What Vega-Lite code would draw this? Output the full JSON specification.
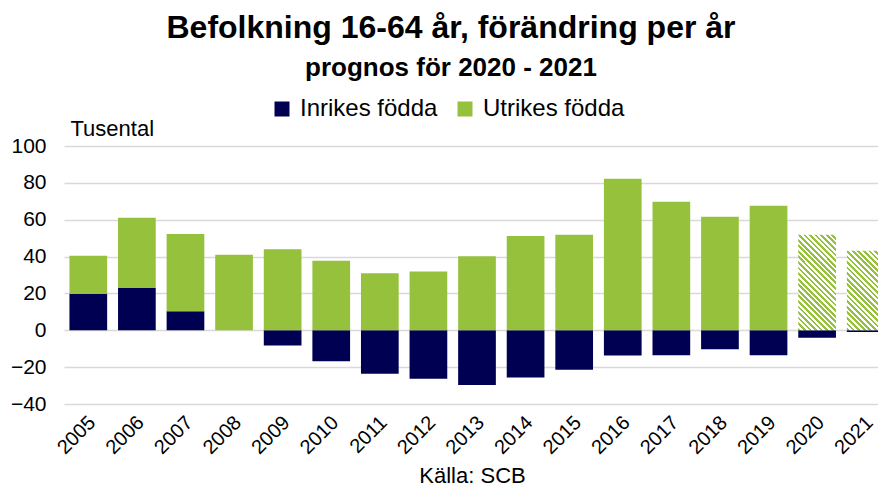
{
  "$schema": "https://vega.github.io/schema/vega-lite/v6.json",
  "width": 814,
  "height": 258,
  "autosize": {"type": "none"},
  "padding": {"left": 64, "top": 146, "right": 0, "bottom": 84},
  "background": "white",
  "title": {
    "text": "Befolkning 16-64 år, förändring per år",
    "subtitle": "prognos för 2020 - 2021",
    "anchor": "middle",
    "frame": "group",
    "font": "Liberation Sans",
    "fontSize": 32,
    "fontWeight": "bold",
    "color": "black",
    "subtitleFont": "Liberation Sans",
    "subtitleFontSize": 26,
    "subtitleFontWeight": "bold",
    "subtitleColor": "black",
    "subtitlePadding": 10,
    "offset": 15,
    "dx": -20
  },
  "config": {
    "view": {"stroke": null},
    "font": "Liberation Sans"
  },
  "data": {
    "values": [
      {"year": "2005", "group": "Inrikes födda", "value": 19.8},
      {"year": "2006", "group": "Inrikes födda", "value": 22.9},
      {"year": "2007", "group": "Inrikes födda", "value": 10.3},
      {"year": "2008", "group": "Inrikes födda", "value": 0},
      {"year": "2009", "group": "Inrikes födda", "value": -8.3},
      {"year": "2010", "group": "Inrikes födda", "value": -16.8},
      {"year": "2011", "group": "Inrikes födda", "value": -23.6},
      {"year": "2012", "group": "Inrikes födda", "value": -26.3},
      {"year": "2013", "group": "Inrikes födda", "value": -29.7},
      {"year": "2014", "group": "Inrikes födda", "value": -25.6},
      {"year": "2015", "group": "Inrikes födda", "value": -21.4},
      {"year": "2016", "group": "Inrikes födda", "value": -13.7},
      {"year": "2017", "group": "Inrikes födda", "value": -13.5},
      {"year": "2018", "group": "Inrikes födda", "value": -10.3},
      {"year": "2019", "group": "Inrikes födda", "value": -13.5},
      {"year": "2020", "group": "Inrikes födda", "value": -4.1},
      {"year": "2021", "group": "Inrikes födda", "value": -0.9},
      {"year": "2005", "group": "Utrikes födda", "value": 20.7},
      {"year": "2006", "group": "Utrikes födda", "value": 38.1},
      {"year": "2007", "group": "Utrikes födda", "value": 42.0},
      {"year": "2008", "group": "Utrikes födda", "value": 41.0},
      {"year": "2009", "group": "Utrikes födda", "value": 44.0},
      {"year": "2010", "group": "Utrikes födda", "value": 37.8},
      {"year": "2011", "group": "Utrikes födda", "value": 31.0},
      {"year": "2012", "group": "Utrikes födda", "value": 31.9},
      {"year": "2013", "group": "Utrikes födda", "value": 40.2},
      {"year": "2014", "group": "Utrikes födda", "value": 51.2},
      {"year": "2015", "group": "Utrikes födda", "value": 51.9},
      {"year": "2016", "group": "Utrikes födda", "value": 82.2},
      {"year": "2017", "group": "Utrikes födda", "value": 69.7},
      {"year": "2018", "group": "Utrikes födda", "value": 61.6},
      {"year": "2019", "group": "Utrikes födda", "value": 67.6},
      {"year": "2020", "group": "Utrikes födda", "value": 51.9},
      {"year": "2021", "group": "Utrikes födda", "value": 43.2}
    ]
  },
  "encoding": {
    "x": {
      "field": "year",
      "type": "ordinal",
      "scale": {"range": [0, 826], "paddingInner": 0.224, "paddingOuter": 0.112},
      "axis": {
        "labelAngle": -45,
        "labelFontSize": 20,
        "labelFont": "Liberation Sans",
        "labelColor": "black",
        "labelPadding": 8,
        "labelOffset": -3,
        "labelBound": false,
        "ticks": false,
        "domain": false,
        "title": "Källa: SCB",
        "titleFont": "Liberation Sans",
        "titleFontSize": 22,
        "titleFontWeight": "normal",
        "titleColor": "black",
        "titleX": 408,
        "titleY": 78,
        "titleAlign": "center",
        "titleBaseline": "alphabetic"
      }
    },
    "y": {
      "field": "value",
      "type": "quantitative",
      "scale": {"domain": [-40, 100], "nice": false},
      "axis": {
        "values": [-40, -20, 0, 20, 40, 60, 80, 100],
        "labelFont": "Liberation Sans",
        "labelFontSize": 21,
        "labelColor": "black",
        "labelPadding": 18,
        "ticks": false,
        "domain": false,
        "gridColor": "#d9d9d9",
        "gridWidth": 1.5,
        "title": "Tusental",
        "titleFont": "Liberation Sans",
        "titleFontSize": 22,
        "titleFontWeight": "normal",
        "titleColor": "black",
        "titleAngle": 0,
        "titleAlign": "left",
        "titleBaseline": "alphabetic",
        "titleX": 6,
        "titleY": -11
      }
    }
  },
  "layer": [
    {
      "transform": [{"filter": "!(datum.group == 'Utrikes födda' && (datum.year == '2020' || datum.year == '2021'))"}],
      "mark": {"type": "bar"},
      "encoding": {
        "order": {"field": "group", "sort": "ascending"},
        "color": {
          "field": "group",
          "type": "nominal",
          "scale": {"domain": ["Inrikes födda", "Utrikes födda"], "range": ["#000052", "#96c13d"]},
          "legend": {
            "orient": "none",
            "legendX": 206,
            "legendY": -49,
            "direction": "horizontal",
            "title": null,
            "padding": 0,
            "symbolType": "square",
            "symbolSize": 225,
            "symbolStrokeWidth": 0,
            "symbolOpacity": 1,
            "labelFont": "Liberation Sans",
            "labelFontSize": 24,
            "labelColor": "black",
            "labelOffset": 6,
            "columnPadding": 15
          }
        }
      }
    },
    {
      "transform": [{"filter": "datum.group == 'Utrikes födda' && datum.year == '2020'"}],
      "mark": {
        "type": "bar",
        "fill": {
          "gradient": "linear",
          "x1": 0, "y1": 1, "x2": 0.4759, "y2": -0.2068,
          "stops": [
            {"offset": 0, "color": "#96c13d"}, {"offset": 0.0208, "color": "#96c13d"},
            {"offset": 0.0208, "color": "#ffffff"}, {"offset": 0.0417, "color": "#ffffff"},
            {"offset": 0.0417, "color": "#96c13d"}, {"offset": 0.0625, "color": "#96c13d"},
            {"offset": 0.0625, "color": "#ffffff"}, {"offset": 0.0833, "color": "#ffffff"},
            {"offset": 0.0833, "color": "#96c13d"}, {"offset": 0.1042, "color": "#96c13d"},
            {"offset": 0.1042, "color": "#ffffff"}, {"offset": 0.125, "color": "#ffffff"},
            {"offset": 0.125, "color": "#96c13d"}, {"offset": 0.1458, "color": "#96c13d"},
            {"offset": 0.1458, "color": "#ffffff"}, {"offset": 0.1667, "color": "#ffffff"},
            {"offset": 0.1667, "color": "#96c13d"}, {"offset": 0.1875, "color": "#96c13d"},
            {"offset": 0.1875, "color": "#ffffff"}, {"offset": 0.2083, "color": "#ffffff"},
            {"offset": 0.2083, "color": "#96c13d"}, {"offset": 0.2292, "color": "#96c13d"},
            {"offset": 0.2292, "color": "#ffffff"}, {"offset": 0.25, "color": "#ffffff"},
            {"offset": 0.25, "color": "#96c13d"}, {"offset": 0.2708, "color": "#96c13d"},
            {"offset": 0.2708, "color": "#ffffff"}, {"offset": 0.2917, "color": "#ffffff"},
            {"offset": 0.2917, "color": "#96c13d"}, {"offset": 0.3125, "color": "#96c13d"},
            {"offset": 0.3125, "color": "#ffffff"}, {"offset": 0.3333, "color": "#ffffff"},
            {"offset": 0.3333, "color": "#96c13d"}, {"offset": 0.3542, "color": "#96c13d"},
            {"offset": 0.3542, "color": "#ffffff"}, {"offset": 0.375, "color": "#ffffff"},
            {"offset": 0.375, "color": "#96c13d"}, {"offset": 0.3958, "color": "#96c13d"},
            {"offset": 0.3958, "color": "#ffffff"}, {"offset": 0.4167, "color": "#ffffff"},
            {"offset": 0.4167, "color": "#96c13d"}, {"offset": 0.4375, "color": "#96c13d"},
            {"offset": 0.4375, "color": "#ffffff"}, {"offset": 0.4583, "color": "#ffffff"},
            {"offset": 0.4583, "color": "#96c13d"}, {"offset": 0.4792, "color": "#96c13d"},
            {"offset": 0.4792, "color": "#ffffff"}, {"offset": 0.5, "color": "#ffffff"},
            {"offset": 0.5, "color": "#96c13d"}, {"offset": 0.5208, "color": "#96c13d"},
            {"offset": 0.5208, "color": "#ffffff"}, {"offset": 0.5417, "color": "#ffffff"},
            {"offset": 0.5417, "color": "#96c13d"}, {"offset": 0.5625, "color": "#96c13d"},
            {"offset": 0.5625, "color": "#ffffff"}, {"offset": 0.5833, "color": "#ffffff"},
            {"offset": 0.5833, "color": "#96c13d"}, {"offset": 0.6042, "color": "#96c13d"},
            {"offset": 0.6042, "color": "#ffffff"}, {"offset": 0.625, "color": "#ffffff"},
            {"offset": 0.625, "color": "#96c13d"}, {"offset": 0.6458, "color": "#96c13d"},
            {"offset": 0.6458, "color": "#ffffff"}, {"offset": 0.6667, "color": "#ffffff"},
            {"offset": 0.6667, "color": "#96c13d"}, {"offset": 0.6875, "color": "#96c13d"},
            {"offset": 0.6875, "color": "#ffffff"}, {"offset": 0.7083, "color": "#ffffff"},
            {"offset": 0.7083, "color": "#96c13d"}, {"offset": 0.7292, "color": "#96c13d"},
            {"offset": 0.7292, "color": "#ffffff"}, {"offset": 0.75, "color": "#ffffff"},
            {"offset": 0.75, "color": "#96c13d"}, {"offset": 0.7708, "color": "#96c13d"},
            {"offset": 0.7708, "color": "#ffffff"}, {"offset": 0.7917, "color": "#ffffff"},
            {"offset": 0.7917, "color": "#96c13d"}, {"offset": 0.8125, "color": "#96c13d"},
            {"offset": 0.8125, "color": "#ffffff"}, {"offset": 0.8333, "color": "#ffffff"},
            {"offset": 0.8333, "color": "#96c13d"}, {"offset": 0.8542, "color": "#96c13d"},
            {"offset": 0.8542, "color": "#ffffff"}, {"offset": 0.875, "color": "#ffffff"},
            {"offset": 0.875, "color": "#96c13d"}, {"offset": 0.8958, "color": "#96c13d"},
            {"offset": 0.8958, "color": "#ffffff"}, {"offset": 0.9167, "color": "#ffffff"},
            {"offset": 0.9167, "color": "#96c13d"}, {"offset": 0.9375, "color": "#96c13d"},
            {"offset": 0.9375, "color": "#ffffff"}, {"offset": 0.9583, "color": "#ffffff"},
            {"offset": 0.9583, "color": "#96c13d"}, {"offset": 0.9792, "color": "#96c13d"},
            {"offset": 0.9792, "color": "#ffffff"}, {"offset": 1, "color": "#ffffff"}
          ]
        }
      }
    },
    {
      "transform": [{"filter": "datum.group == 'Utrikes födda' && datum.year == '2021'"}],
      "mark": {
        "type": "bar",
        "fill": {
          "gradient": "linear",
          "x1": 0, "y1": 1, "x2": 0.570, "y2": -0.2037,
          "stops": [
            {"offset": 0, "color": "#96c13d"}, {"offset": 0.0238, "color": "#96c13d"},
            {"offset": 0.0238, "color": "#ffffff"}, {"offset": 0.0476, "color": "#ffffff"},
            {"offset": 0.0476, "color": "#96c13d"}, {"offset": 0.0714, "color": "#96c13d"},
            {"offset": 0.0714, "color": "#ffffff"}, {"offset": 0.0952, "color": "#ffffff"},
            {"offset": 0.0952, "color": "#96c13d"}, {"offset": 0.1190, "color": "#96c13d"},
            {"offset": 0.1190, "color": "#ffffff"}, {"offset": 0.1429, "color": "#ffffff"},
            {"offset": 0.1429, "color": "#96c13d"}, {"offset": 0.1667, "color": "#96c13d"},
            {"offset": 0.1667, "color": "#ffffff"}, {"offset": 0.1905, "color": "#ffffff"},
            {"offset": 0.1905, "color": "#96c13d"}, {"offset": 0.2143, "color": "#96c13d"},
            {"offset": 0.2143, "color": "#ffffff"}, {"offset": 0.2381, "color": "#ffffff"},
            {"offset": 0.2381, "color": "#96c13d"}, {"offset": 0.2619, "color": "#96c13d"},
            {"offset": 0.2619, "color": "#ffffff"}, {"offset": 0.2857, "color": "#ffffff"},
            {"offset": 0.2857, "color": "#96c13d"}, {"offset": 0.3095, "color": "#96c13d"},
            {"offset": 0.3095, "color": "#ffffff"}, {"offset": 0.3333, "color": "#ffffff"},
            {"offset": 0.3333, "color": "#96c13d"}, {"offset": 0.3571, "color": "#96c13d"},
            {"offset": 0.3571, "color": "#ffffff"}, {"offset": 0.3810, "color": "#ffffff"},
            {"offset": 0.3810, "color": "#96c13d"}, {"offset": 0.4048, "color": "#96c13d"},
            {"offset": 0.4048, "color": "#ffffff"}, {"offset": 0.4286, "color": "#ffffff"},
            {"offset": 0.4286, "color": "#96c13d"}, {"offset": 0.4524, "color": "#96c13d"},
            {"offset": 0.4524, "color": "#ffffff"}, {"offset": 0.4762, "color": "#ffffff"},
            {"offset": 0.4762, "color": "#96c13d"}, {"offset": 0.5, "color": "#96c13d"},
            {"offset": 0.5, "color": "#ffffff"}, {"offset": 0.5238, "color": "#ffffff"},
            {"offset": 0.5238, "color": "#96c13d"}, {"offset": 0.5476, "color": "#96c13d"},
            {"offset": 0.5476, "color": "#ffffff"}, {"offset": 0.5714, "color": "#ffffff"},
            {"offset": 0.5714, "color": "#96c13d"}, {"offset": 0.5952, "color": "#96c13d"},
            {"offset": 0.5952, "color": "#ffffff"}, {"offset": 0.6190, "color": "#ffffff"},
            {"offset": 0.6190, "color": "#96c13d"}, {"offset": 0.6429, "color": "#96c13d"},
            {"offset": 0.6429, "color": "#ffffff"}, {"offset": 0.6667, "color": "#ffffff"},
            {"offset": 0.6667, "color": "#96c13d"}, {"offset": 0.6905, "color": "#96c13d"},
            {"offset": 0.6905, "color": "#ffffff"}, {"offset": 0.7143, "color": "#ffffff"},
            {"offset": 0.7143, "color": "#96c13d"}, {"offset": 0.7381, "color": "#96c13d"},
            {"offset": 0.7381, "color": "#ffffff"}, {"offset": 0.7619, "color": "#ffffff"},
            {"offset": 0.7619, "color": "#96c13d"}, {"offset": 0.7857, "color": "#96c13d"},
            {"offset": 0.7857, "color": "#ffffff"}, {"offset": 0.8095, "color": "#ffffff"},
            {"offset": 0.8095, "color": "#96c13d"}, {"offset": 0.8333, "color": "#96c13d"},
            {"offset": 0.8333, "color": "#ffffff"}, {"offset": 0.8571, "color": "#ffffff"},
            {"offset": 0.8571, "color": "#96c13d"}, {"offset": 0.8810, "color": "#96c13d"},
            {"offset": 0.8810, "color": "#ffffff"}, {"offset": 0.9048, "color": "#ffffff"},
            {"offset": 0.9048, "color": "#96c13d"}, {"offset": 0.9286, "color": "#96c13d"},
            {"offset": 0.9286, "color": "#ffffff"}, {"offset": 0.9524, "color": "#ffffff"},
            {"offset": 0.9524, "color": "#96c13d"}, {"offset": 0.9762, "color": "#96c13d"},
            {"offset": 0.9762, "color": "#ffffff"}, {"offset": 1, "color": "#ffffff"}
          ]
        }
      }
    }
  ]
}
